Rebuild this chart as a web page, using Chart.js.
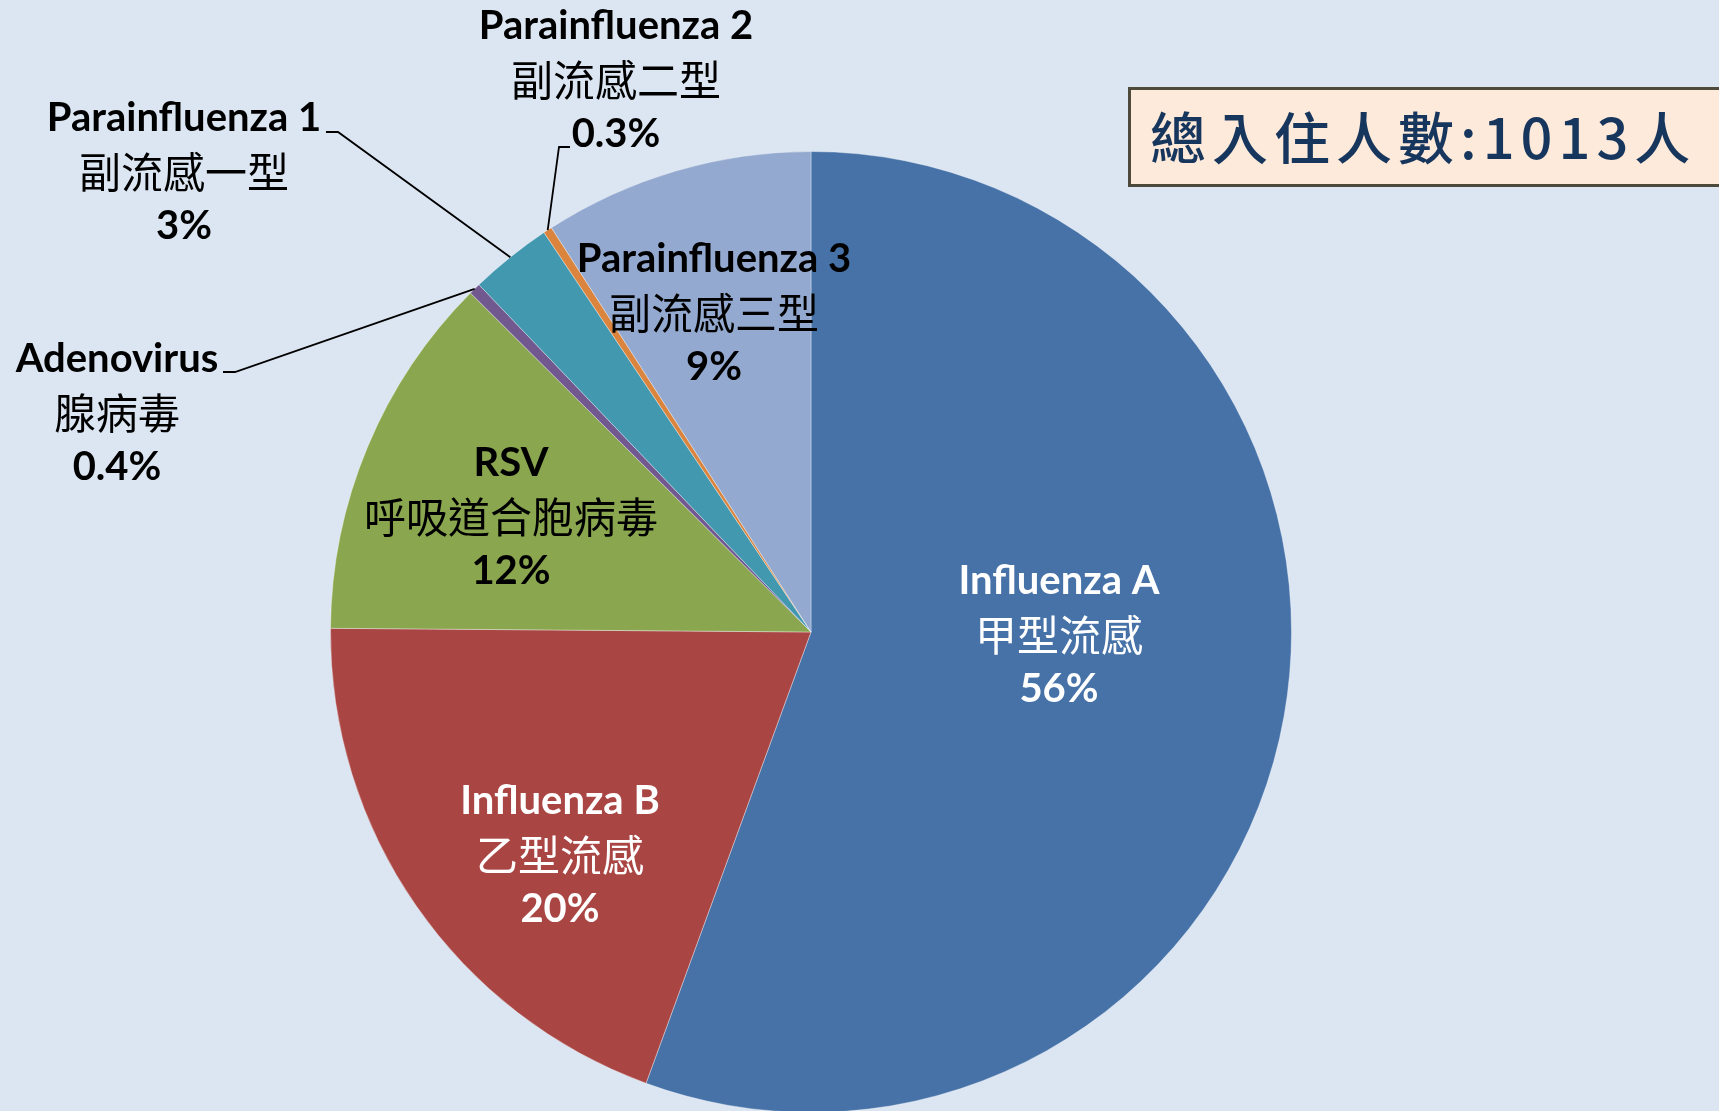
<!DOCTYPE html>
<html><head><meta charset="utf-8">
<script src="https://cdn.jsdelivr.net/npm/chart.js@4.4.1/dist/chart.umd.min.js"></script>
<style>
html,body{margin:0;padding:0;background:#DCE6F2;overflow:hidden;width:1719px;height:1111px}
#wrap{position:absolute;left:0;top:0;width:1719px;height:1120px}
</style></head>
<body><div id="wrap"><canvas id="c"></canvas></div>
<script>
// ---- data ----
const categories = ['Influenza A','Influenza B','RSV','Adenovirus','Parainfluenza 1','Parainfluenza 2','Parainfluenza 3'];
const categoriesZh = ['甲型流感','乙型流感','呼吸道合胞病毒','腺病毒','副流感一型','副流感二型','副流感三型'];
const counts = [563,198,125,4,28,3,92];
const percentLabels = ['56%','20%','12%','0.4%','3%','0.3%','9%'];
const totalLabel = '總入住人數:1013人';

// ---- styles / layout ----
const colors = ['#4672A8','#A94644','#8AA64E','#71588F','#4198AF','#DB843D','#93A9CF'];
const labelLayout = [
  {x:1059,y:581,color:'#FFFFFF'},
  {x:560,y:801,color:'#FFFFFF'},
  {x:511,y:463,color:'#000000'},
  {x:117,y:359,color:'#000000',tick:[223,235,372]},
  {x:184,y:118,color:'#000000',tick:[326,338,132]},
  {x:616,y:26,color:'#000000',tick:[570,559,147]},
  {x:714,y:259,color:'#000000'}
];
const lineGap = 54;
const fontEn = 'bold 40px Lato, "Open Sans", sans-serif';
const fontZh = '42px "Noto Sans CJK TC", "Noto Sans CJK SC", sans-serif';

const labelPlugin = {
  id:'labels',
  afterDatasetsDraw(chart){
    const ctx = chart.ctx;
    const arcs = chart.getDatasetMeta(0).data;
    ctx.save();
    // leader lines
    labelLayout.forEach((L,i)=>{
      if(!L.tick) return;
      const a = arcs[i];
      const mid = (a.startAngle + a.endAngle)/2;
      const px = a.x + Math.cos(mid)*a.outerRadius;
      const py = a.y + Math.sin(mid)*a.outerRadius;
      ctx.beginPath();
      ctx.strokeStyle = '#000';
      ctx.lineWidth = 1.8;
      ctx.moveTo(L.tick[0], L.tick[2]);
      ctx.lineTo(L.tick[1], L.tick[2]);
      ctx.lineTo(px, py);
      ctx.stroke();
    });
    // labels
    ctx.textAlign = 'center';
    ctx.textBaseline = 'middle';
    labelLayout.forEach((L,i)=>{
      ctx.fillStyle = L.color;
      ctx.font = fontEn;
      ctx.fillText(categories[i], L.x, L.y);
      ctx.font = fontZh;
      ctx.fillText(categoriesZh[i], L.x, L.y + lineGap);
      ctx.font = fontEn;
      ctx.fillText(percentLabels[i], L.x, L.y + 2*lineGap);
    });
    // total box
    ctx.fillStyle = '#FDEADA';
    ctx.fillRect(1128, 87, 620, 100);
    ctx.strokeStyle = '#4E4A3B';
    ctx.lineWidth = 3;
    ctx.strokeRect(1129.5, 88.5, 620, 97);
    ctx.fillStyle = '#17365D';
    ctx.font = '500 56px "Noto Sans CJK TC", "Noto Sans CJK SC", sans-serif';
    ctx.textAlign = 'left';
    if ('letterSpacing' in ctx) ctx.letterSpacing = '6px';
    ctx.fillText(totalLabel, 1150, 138);
    ctx.restore();
  }
};

new Chart(document.getElementById('c'), {
  type:'pie',
  data:{
    labels: categories,
    datasets:[{
      data: counts,
      backgroundColor: colors,
      borderColor: 'rgba(255,255,255,0.35)',
      borderWidth: 1,
      hoverOffset: 0,
      offset: 0
    }]
  },
  options:{
    responsive:true,
    maintainAspectRatio:false,
    animation:false,
    layout:{padding:{left:330,right:427,top:151,bottom:7}},
    plugins:{legend:{display:false},tooltip:{enabled:false}},
    events:[]
  },
  plugins:[labelPlugin]
});
</script>
</body></html>
